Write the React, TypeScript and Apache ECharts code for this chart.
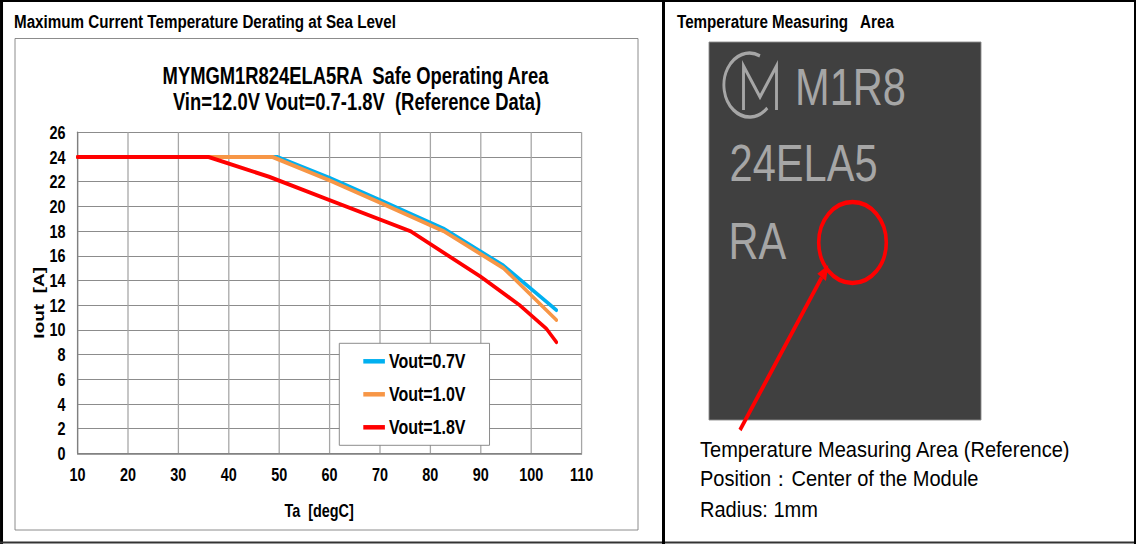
import React, { useEffect, useRef } from "react";
import * as echarts from "echarts";

// ---- data ----
const seriesNames = ["Vout=0.7V", "Vout=1.0V", "Vout=1.8V"];
const vout07: [number, number][] = [
  [10, 24], [49.6, 24], [60, 22.3], [70, 20.5], [82.6, 18.2], [94.5, 15.2], [105, 11.6],
];
const vout10: [number, number][] = [
  [10, 24], [48.7, 24], [60, 22.1], [70, 20.3], [82.6, 18.0], [94.5, 15.0], [105, 10.8],
];
const vout18: [number, number][] = [
  [10, 24], [36, 24], [48, 22.4], [60, 20.5], [76, 18.0], [90, 14.3], [97.7, 12.0], [103, 10.1], [105, 9.0],
];
const xRange = { min: 10, max: 110, interval: 10 };
const yRange = { min: 0, max: 26, interval: 2 };
const chartTitle = ["MYMGM1R824ELA5RA  Safe Operating Area", "Vin=12.0V Vout=0.7-1.8V  (Reference Data)"];
const leftHeader = "Maximum Current Temperature Derating at Sea Level";
const rightHeader = "Temperature Measuring   Area";
const markingLines = ["M1R8", "24ELA5", "RA"];
const noteLines = ["Temperature Measuring Area (Reference)", "Position：Center of the Module", "Radius: 1mm"];
const xName = "Ta  [degC]";
const yName = "Iout  [A]";

// ---- layout ----
const S = 0.8; // horizontal condensing of the whole picture
const W = 1136;
const H = 544;
const ux = (px: number) => px / S;
const FONT = 'Arial, "Liberation Sans", Helvetica, sans-serif';
const colors = ["#00b0f0", "#f79646", "#ff0000"];

function txt(text: string, x: number, y: number, size: number, opts: any = {}) {
  return {
    type: "text",
    x,
    y,
    scaleX: opts.scaleX ?? 1,
    z: 100,
    style: {
      text,
      fontSize: size,
      fontWeight: opts.bold ? "bold" : "normal",
      fontFamily: FONT,
      fill: opts.fill ?? "#000",
      textAlign: opts.align ?? "left",
      align: opts.align ?? "left",
      textVerticalAlign: "middle",
      verticalAlign: "middle",
    },
  };
}

function ln(x1: number, y1: number, x2: number, y2: number, color: string, w: number) {
  return {
    type: "line",
    z: 100,
    shape: { x1, y1, x2, y2 },
    style: { stroke: color, lineWidth: w },
  };
}

export default function App() {
  const ref = useRef<HTMLDivElement>(null);
  useEffect(() => {
    if (!ref.current) return;
    const chart = echarts.init(ref.current, undefined, { renderer: "svg" });

    // arrow geometry (unscaled coordinates)
    const tail = [ux(740), 430];
    const tip = [ux(828.3), 265];
    const dx = tip[0] - tail[0];
    const dy = tip[1] - tail[1];
    const len = Math.sqrt(dx * dx + dy * dy);
    const d = [dx / len, dy / len];
    const p = [-d[1], d[0]];
    const hl = 15;
    const hw = 6.5;
    const base = [tip[0] - d[0] * hl, tip[1] - d[1] * hl];

    const graphics: any[] = [
      // outer frame
      ln(1.9, 0, 1.9, H, "#000", 3.75),
      ln(0, 1, ux(W), 1, "#000", 2),
      ln(0, 542.5, ux(W), 542.5, "#333", 2),
      ln(ux(663.5), 0, ux(663.5), H, "#000", 3.75),
      ln(ux(1135), 0, ux(1135), H, "#000", 2.5),
      // inner chart frame
      {
        type: "rect",
        z: 1,
        shape: { x: ux(15), y: 38.5, width: ux(638) - ux(15), height: 530 - 38.5 },
        style: { fill: "none", stroke: "#7f7f7f", lineWidth: 1 },
      },
      txt(leftHeader, ux(14), 21, 19, { bold: true }),
      txt(rightHeader, ux(677), 21, 19, { bold: true }),
      txt(chartTitle[0], ux(355.5), 76, 23, { bold: true, align: "center" }),
      txt(chartTitle[1], ux(357), 101.5, 23, { bold: true, align: "center" }),
      // module picture
      {
        type: "rect",
        z: 50,
        shape: { x: ux(709), y: 42, width: ux(981) - ux(709), height: 420 - 42 },
        style: { fill: "#404040", stroke: "#8c8c8c", lineWidth: 1 },
      },
      {
        type: "arc",
        z: 60,
        shape: { cx: ux(749.5), cy: 85, r: 32, startAngle: -1.15, endAngle: 0.8, clockwise: false },
        style: { stroke: "#a6a6a6", lineWidth: 3.6, fill: "none" },
      },
      {
        type: "polyline",
        z: 60,
        shape: {
          points: [
            [ux(743.5), 110],
            [ux(743.5), 66],
            [ux(760), 97],
            [ux(776.5), 66],
            [ux(776.5), 110],
          ],
        },
        style: { stroke: "#a6a6a6", lineWidth: 3.6, fill: "none", lineJoin: "miter" },
      },
      txt(markingLines[0], ux(795), 86.5, 52, { fill: "#a6a6a6" }),
      txt(markingLines[1], ux(729.5), 163, 52, { fill: "#a6a6a6" }),
      txt(markingLines[2], ux(728.5), 240.5, 52, { fill: "#a6a6a6" }),
      {
        type: "ellipse",
        z: 70,
        shape: { cx: ux(852.5), cy: 242.5, rx: ux(33.8), ry: 40.5 },
        style: { fill: "none", stroke: "#ff0000", lineWidth: 4.5 },
      },
      {
        type: "line",
        z: 70,
        shape: { x1: tail[0], y1: tail[1], x2: base[0], y2: base[1] },
        style: { stroke: "#ff0000", lineWidth: 4.5 },
      },
      {
        type: "polygon",
        z: 70,
        shape: {
          points: [
            tip,
            [base[0] + p[0] * hw, base[1] + p[1] * hw],
            [base[0] - p[0] * hw, base[1] - p[1] * hw],
          ],
        },
        style: { fill: "#ff0000" },
      },
      txt(noteLines[0], ux(700), 449, 21.5, { scaleX: 1.165 }),
      txt(noteLines[1], ux(700), 478.5, 21.5, { scaleX: 1.165 }),
      txt(noteLines[2], ux(700), 509.5, 21.5, { scaleX: 1.165 }),
    ];

    const mkSeries = (name: string, data: [number, number][], color: string, z: number) => ({
      name,
      type: "line",
      data,
      color,
      symbol: "none",
      showSymbol: false,
      z,
      lineStyle: { color, width: 4, join: "round", cap: "round" },
    });

    chart.setOption({
      animation: false,
      backgroundColor: "#ffffff",
      grid: { left: ux(77.5), top: 132.3, width: ux(581.6) - ux(77.5), height: 453.3 - 132.3, containLabel: false },
      xAxis: {
        type: "value",
        min: xRange.min,
        max: xRange.max,
        interval: xRange.interval,
        name: xName,
        nameLocation: "middle",
        nameGap: 48,
        nameTextStyle: { fontFamily: FONT, fontWeight: "bold", fontSize: 18, color: "#000", padding: [0, 26, 0, 0] },
        axisLine: { show: true, lineStyle: { color: "#7f7f7f", width: 1.5 } },
        axisTick: { show: false },
        axisLabel: { fontFamily: FONT, fontWeight: "bold", fontSize: 18, color: "#000", margin: 12 },
        splitLine: { show: true, lineStyle: { color: "#a6a6a6", width: 1.6 } },
      },
      yAxis: {
        type: "value",
        min: yRange.min,
        max: yRange.max,
        interval: yRange.interval,
        name: yName,
        nameLocation: "middle",
        nameRotate: 90,
        nameGap: 37,
        nameTextStyle: { fontFamily: FONT, fontWeight: "bold", fontSize: 19, color: "#000", padding: [0, 20, 0, 0] },
        axisLine: { show: true, lineStyle: { color: "#7f7f7f", width: 1.6 } },
        axisTick: { show: false },
        axisLabel: { fontFamily: FONT, fontWeight: "bold", fontSize: 18, color: "#000", margin: 15 },
        splitLine: { show: true, lineStyle: { color: "#7f7f7f", width: 1 } },
      },
      legend: {
        data: seriesNames,
        orient: "vertical",
        left: ux(339.3),
        top: 343.3,
        padding: [8, 30, 8, 30],
        itemGap: 13,
        itemWidth: 27,
        itemHeight: 4.5,
        icon: "rect",
        backgroundColor: "#ffffff",
        borderColor: "#7f7f7f",
        borderWidth: 1,
        textStyle: { fontFamily: FONT, fontWeight: "bold", fontSize: 20, color: "#000", lineHeight: 20 },
      },
      series: [
        mkSeries(seriesNames[0], vout07, colors[0], 2),
        mkSeries(seriesNames[1], vout10, colors[1], 3),
        mkSeries(seriesNames[2], vout18, colors[2], 4),
      ],
      graphic: { elements: graphics },
    });
    return () => chart.dispose();
  }, []);

  return (
    <div style={{ position: "absolute", left: 0, top: 0, width: W, height: H, overflow: "hidden", background: "#fff" }}>
      <div
        ref={ref}
        style={{ width: ux(W), height: H, transform: `scaleX(${S})`, transformOrigin: "0 0" }}
      />
    </div>
  );
}
